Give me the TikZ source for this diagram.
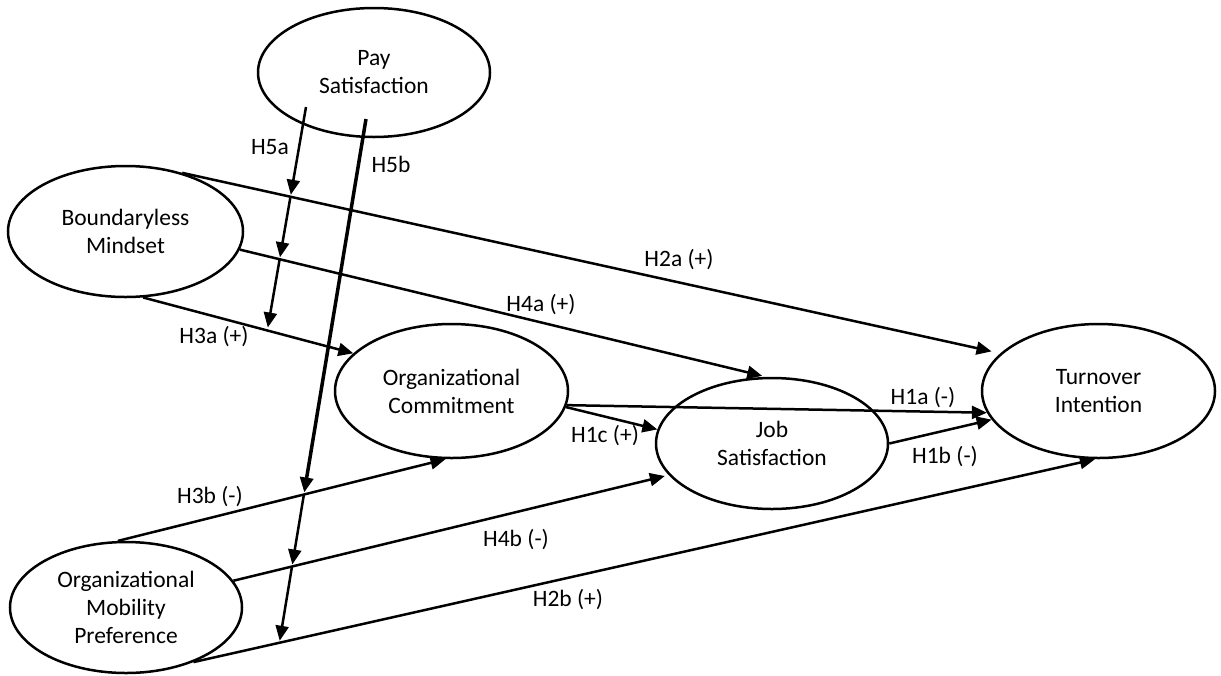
\documentclass[tikz,border=0pt]{standalone}
\usepackage{fontspec}
\setmainfont{Carlito}
\usetikzlibrary{arrows.meta,shapes.geometric,intersections}
\begin{document}
\begin{tikzpicture}[x=1pt,y=-1pt,
  construct/.style={ellipse,draw,line width=2.5pt,inner sep=0pt,align=center,
    font=\fontsize{23.5}{28}\selectfont},
  link/.style={line width=2.5pt,-{Triangle[length=15pt,width=13pt]}},
  lbl/.style={inner sep=0pt,font=\fontsize{23.5}{28}\selectfont}]
\useasboundingbox (0,0) rectangle (1221,675);

% constructs
\node[construct,minimum width=232pt,minimum height=129pt] (pay) at (374,72.5) {Pay\\Satisfaction};
\node[construct,minimum width=235pt,minimum height=131pt] (bm) at (125.5,231.5) {Boundaryless\\Mindset};
\node[construct,minimum width=233pt,minimum height=134pt] (oc) at (451.5,391) {Organizational\\Commitment};
\node[construct,minimum width=232pt,minimum height=131pt] (js) at (772,443.5) {Job\\Satisfaction};
\node[construct,minimum width=233pt,minimum height=134pt] (ti) at (1098.5,391) {Turnover\\Intention};
\node[construct,minimum width=232pt,minimum height=131pt] (omp) at (126,607.5) {Organizational\\Mobility\\Preference};

% direct paths
\draw[link,name path=l2a,shorten >=9pt] (bm.46) -- (ti.159.9);
\draw[link,name path=l4a,shorten >=4pt] (bm.-9.4) -- (js.95.8);
\draw[link,name path=l3a] (bm.-75) -- (oc.159);
\draw[link] (oc.-7) -- (ti.191.8);
\draw[link] (oc.-8.5) -- (js.173.3);
\draw[link] (js.0) -- (ti.195.2);
\draw[link,name path=l3b] (omp.97) -- (oc.265.2);
\draw[link,name path=l4b,shorten >=4pt] (omp.14.4) -- (js.197.7);
\draw[link,name path=l2b] (omp.-39.5) -- (ti.267);

% moderator H5a
\coordinate (p5a) at (306,107);
\coordinate (q5a) at (261,367);
\path[name path=m5a] (p5a) -- (q5a);
\path[name intersections={of=m5a and l2a,by=a1}];
\path[name intersections={of=m5a and l4a,by=a2}];
\path[name intersections={of=m5a and l3a,by=a3}];
\draw[link,shorten >=2pt] (p5a) -- (a1);
\draw[link,shorten >=2pt] (a1) -- (a2);
\draw[link,shorten >=3pt] (a2) -- (a3);

% moderator H5b
\coordinate (p5b) at (366,119);
\coordinate (q5b) at (273.4,679);
\path[name path=m5b] (p5b) -- (q5b);
\path[name intersections={of=m5b and l3b,by=b1}];
\path[name intersections={of=m5b and l4b,by=b2}];
\path[name intersections={of=m5b and l2b,by=b3}];
\draw[link,line width=3.5pt,shorten >=2pt] (p5b) -- (b1);
\draw[link,shorten >=2pt] (b1) -- (b2);
\draw[link,shorten >=2pt] (b2) -- (b3);

% labels
\node[lbl] (t5a) at (270,147) {H5a};
\node[lbl] (t5b) at (391,164) {H5b};
\node[lbl] (t2a) at (679,260) {H2a (+)};
\node[lbl] (t4a) at (541,305) {H4a (+)};
\node[lbl] (t3a) at (214,337) {H3a (+)};
\node[lbl] (t1a) at (923,398) {H1a (-)};
\node[lbl] (t1c) at (605,436) {H1c (+)};
\node[lbl] (t1b) at (945,457) {H1b (-)};
\node[lbl] (t3b) at (210,497) {H3b (-)};
\node[lbl] (t4b) at (516,540) {H4b (-)};
\node[lbl] (t2b) at (568,600) {H2b (+)};
\end{tikzpicture}
\end{document}
